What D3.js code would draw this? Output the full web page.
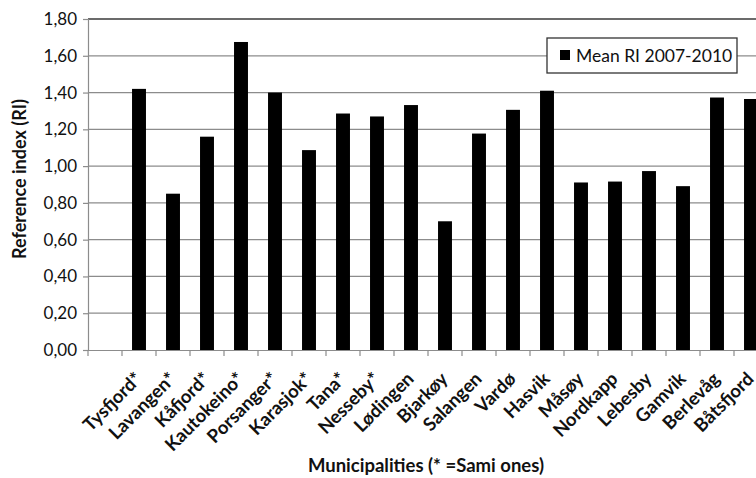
<!DOCTYPE html>
<html>
<head>
<meta charset="utf-8">
<script src="https://cdn.jsdelivr.net/npm/d3@7"></script>
<style>
  body { margin: 0; background: #fff; }
  svg { display: block; font-family: Lato, "Open Sans", sans-serif; }
</style>
</head>
<body>
<div id="chart"></div>
<script>
// categories (first slot is an empty category in the original chart)
const municipalities = ["", "Tysfjord*", "Lavangen*", "Kåfjord*", "Kautokeino*", "Porsanger*",
    "Karasjok*", "Tana*", "Nesseby*", "Lødingen", "Bjarkøy", "Salangen", "Vardø", "Hasvik",
    "Måsøy", "Nordkapp", "Lebesby", "Gamvik", "Berlevåg", "Båtsfjord"];
const meanRI = [null, 1.42, 0.85, 1.16, 1.675, 1.40,
    1.087, 1.286, 1.27, 1.332, 0.70, 1.177, 1.306, 1.41,
    0.911, 0.916, 0.973, 0.891, 1.373, 1.365];
const yTicks = [0, 0.2, 0.4, 0.6, 0.8, 1.0, 1.2, 1.4, 1.6, 1.8];
const seriesName = "Mean RI 2007-2010";

const W = 756, H = 478;
const margin = { top: 19, left: 88, bottom: 128 };
const plotH = H - margin.top - margin.bottom;
const bandW = 34;

const svg = d3.select("#chart").append("svg")
    .attr("width", W)
    .attr("height", H);

// x scale - the plot runs past the right edge of the picture
const x = d3.scaleBand()
    .domain(municipalities.map((d, i) => i))
    .range([margin.left, margin.left + bandW * municipalities.length])
    .paddingInner(0)
    .paddingOuter(0);

const y = d3.scaleLinear()
    .domain([0, 1.8])
    .range([margin.top + plotH, margin.top]);

// gridlines
svg.append("g")
    .selectAll("line")
    .data(yTicks.filter(t => t > 0 && t < 1.8))
    .join("line")
    .attr("x1", margin.left)
    .attr("x2", W)
    .attr("y1", d => y(d))
    .attr("y2", d => y(d))
    .attr("stroke", "#8c8c8c")
    .attr("stroke-width", 1.2);

// top border
svg.append("line")
    .attr("x1", margin.left).attr("x2", W)
    .attr("y1", y(1.8)).attr("y2", y(1.8))
    .attr("stroke", "#3a3a3a")
    .attr("stroke-width", 1.5);

// y axis
const yAxis = svg.append("g")
    .attr("transform", `translate(${margin.left},0)`)
    .call(d3.axisLeft(y)
        .tickValues(yTicks)
        .tickSize(5)
        .tickPadding(6)
        .tickFormat(d => d3.format(".2f")(d).replace(".", ",")));
yAxis.select(".domain").attr("stroke", "#8c8c8c").attr("stroke-width", 1.2);
yAxis.selectAll(".tick line").attr("stroke", "#8c8c8c").attr("stroke-width", 1.2);
yAxis.selectAll("text")
    .attr("fill", "#111")
    .style("font-size", "17px")
    .style("font-family", "Lato, sans-serif");

// x axis
const xAxis = svg.append("g")
    .attr("transform", `translate(0,${y(0)})`)
    .call(d3.axisBottom(x).tickSize(0).tickFormat(""));
xAxis.select(".domain").attr("stroke", "#8c8c8c").attr("stroke-width", 1.2);

// tick marks between categories
svg.append("g")
    .selectAll("line")
    .data(municipalities.map((d, i) => i).concat([municipalities.length]))
    .join("line")
    .attr("x1", i => margin.left + i * x.step())
    .attr("x2", i => margin.left + i * x.step())
    .attr("y1", y(0))
    .attr("y2", y(0) + 6)
    .attr("stroke", "#8c8c8c")
    .attr("stroke-width", 1.2);

// bars
const barW = x.bandwidth() * 0.41;
svg.append("g")
    .selectAll("rect")
    .data(municipalities.map((m, i) => ({ m: m, i: i, v: meanRI[i] })).filter(d => d.v != null))
    .join("rect")
    .attr("x", d => x(d.i) + (x.bandwidth() - barW) / 2)
    .attr("y", d => y(d.v))
    .attr("width", barW)
    .attr("height", d => y(0) - y(d.v))
    .attr("fill", "#000");

// category labels
svg.append("g")
    .selectAll("text")
    .data(municipalities.map((m, i) => ({ m: m, i: i })).filter(d => d.m !== ""))
    .join("text")
    .attr("transform", d => `translate(${x(d.i) + x.bandwidth() / 2 + 4},${y(0) + 30}) rotate(-45)`)
    .attr("text-anchor", "end")
    .style("font-size", "18.5px")
    .style("font-weight", "bold")
    .attr("fill", "#111")
    .text(d => d.m);

// axis titles
svg.append("text")
    .attr("transform", "translate(26,179) rotate(-90)")
    .attr("text-anchor", "middle")
    .style("font-size", "18px")
    .style("font-weight", "bold")
    .attr("fill", "#111")
    .text("Reference index (RI)");

svg.append("text")
    .attr("x", 426)
    .attr("y", 472)
    .attr("text-anchor", "middle")
    .style("font-size", "18.5px")
    .style("font-weight", "bold")
    .attr("fill", "#111")
    .text("Municipalities (* =Sami ones)");

// legend
const legend = svg.append("g").attr("transform", "translate(547,38)");
legend.append("rect")
    .attr("width", 190)
    .attr("height", 35)
    .attr("fill", "#fff")
    .attr("stroke", "#333")
    .attr("stroke-width", 1.3);
legend.append("rect")
    .attr("x", 13).attr("y", 12)
    .attr("width", 10).attr("height", 10)
    .attr("fill", "#000");
legend.append("text")
    .attr("x", 29).attr("y", 24)
    .style("font-size", "17.5px")
    .attr("fill", "#111")
    .text(seriesName);
</script>
</body>
</html>
